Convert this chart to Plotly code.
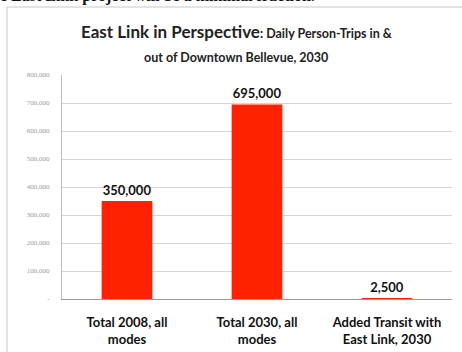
import plotly.graph_objects as go

categories = ["Total 2008, all<br>modes", "Total 2030, all<br>modes", "Added Transit with<br>East Link, 2030"]
trips = [350000, 695000, 2500]
tick_vals = [0, 100000, 200000, 300000, 400000, 500000, 600000, 700000, 800000]
tick_text = ["-", "100,000", "200,000", "300,000", "400,000", "500,000", "600,000", "700,000", "800,000"]

W, H = 462, 352
L, R, T, B = 62, 10, 75, 53
pw, ph = W - L - R, H - T - B

def px_x(x):
    return (x - L) / pw

def px_y(y):
    return (H - B - y) / ph

fig = go.Figure(go.Bar(
    x=categories, y=trips,
    marker=dict(color="#FF2200", line=dict(width=0)),
    width=0.39,
    text=[f"<b>{v:,}</b>" for v in trips],
    textposition="outside",
    textfont=dict(family="Lato", size=13, color="#111111"),
    cliponaxis=False,
))

fig.update_layout(
    width=W, height=H,
    margin=dict(l=L, r=R, t=T, b=B, autoexpand=False),
    paper_bgcolor="white", plot_bgcolor="white",
    font=dict(family="Lato"),
    showlegend=False,
    bargap=0.61,
    xaxis=dict(
        showline=True, linecolor="#9a9a9a", linewidth=1,
        ticks="", tickfont=dict(family="Lato", size=13, color="#111111"),
        tickangle=0, ticklabelstandoff=11, automargin=False,
        tickvals=categories, ticktext=[f"<b>{c}</b>" for c in categories],
    ),
    yaxis=dict(
        range=[0, 800000], tickvals=tick_vals, ticktext=tick_text,
        showgrid=True, gridcolor="#d4d4d4", gridwidth=1,
        showline=True, linecolor="#bdbdbd", linewidth=1,
        zeroline=False, automargin=False,
        tickfont=dict(family="Liberation Serif", size=7, color="#9a9a9a"),
        ticks="", ticklabelstandoff=10,
    ),
    shapes=[dict(
        type="rect", xref="paper", yref="paper",
        x0=px_x(7), x1=px_x(470), y0=px_y(360), y1=px_y(7),
        line=dict(color="#c8c8c8", width=1), fillcolor="rgba(0,0,0,0)",
        layer="below",
    )],
    annotations=[
        dict(xref="paper", yref="paper", x=px_x(236), y=px_y(32),
             xanchor="center", yanchor="middle", showarrow=False,
             text="<b><span style='font-size:17px'>East Link in Perspective</span>: Daily Person-Trips in &</b>",
             font=dict(family="Lato", size=12.5, color="#222222")),
        dict(xref="paper", yref="paper", x=px_x(236), y=px_y(57),
             xanchor="center", yanchor="middle", showarrow=False,
             text="<b>out of Downtown Bellevue, 2030</b>",
             font=dict(family="Lato", size=12.5, color="#222222")),
        dict(xref="paper", yref="paper", x=px_x(-2), y=px_y(7),
             xanchor="left", yanchor="bottom", showarrow=False,
             text="<b>e East Link project will be a minimal fraction.</b>",
             font=dict(family="Liberation Serif", size=16, color="#111111")),
    ],
)

fig.write_html("out.html")
